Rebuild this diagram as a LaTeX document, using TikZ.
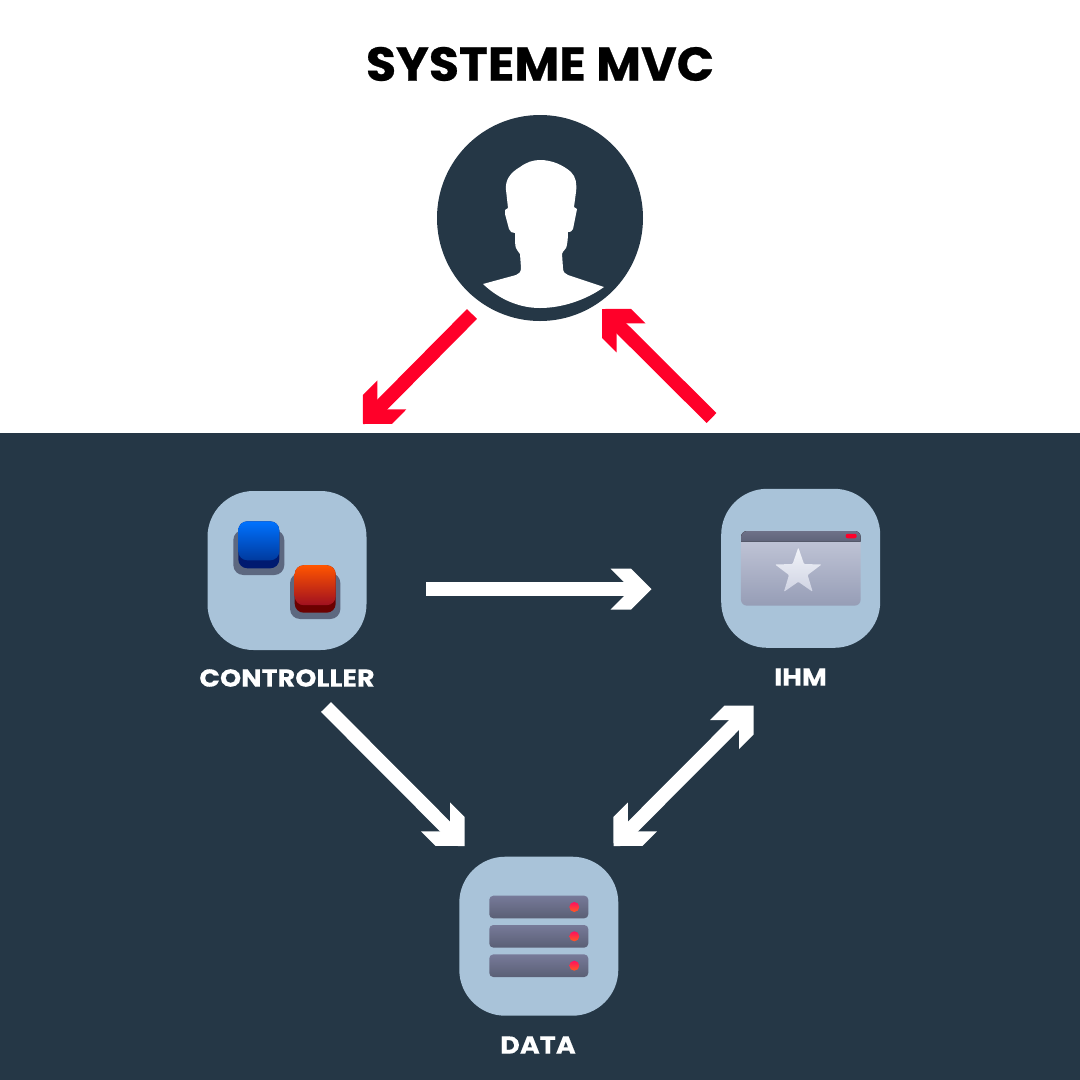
\documentclass[tikz,border=0pt]{standalone}
\usepackage{fontspec}
\setmainfont{Poppins}
\newfontfamily\titlefont{Poppins}[BoldFeatures={FakeStretch=1.03,FakeBold=0.5}]
\newfontfamily\labelfont{Poppins}[BoldFeatures={FakeStretch=1.105,FakeBold=0.25}]
\usetikzlibrary{shapes.geometric}
\definecolor{navy}{HTML}{253746}
\definecolor{iconbg}{HTML}{A9C3D9}
\definecolor{arrowred}{HTML}{FF0029}
\definecolor{shade}{HTML}{5D6880}
\definecolor{rackA}{HTML}{777A99}
\definecolor{rackB}{HTML}{5A5F75}
\definecolor{ledA}{HTML}{FF1060}
\definecolor{ledB}{HTML}{FF5A20}
\definecolor{blueA}{HTML}{0072FF}
\definecolor{blueB}{HTML}{003A9E}
\definecolor{blueedge}{HTML}{001A70}
\definecolor{redA}{HTML}{FF5500}
\definecolor{redB}{HTML}{A01020}
\definecolor{rededge}{HTML}{6B0000}
\definecolor{paneA}{HTML}{C5C9DA}
\definecolor{paneB}{HTML}{969DB6}
\definecolor{barA}{HTML}{6E7188}
\definecolor{barB}{HTML}{5E6379}
\definecolor{starA}{HTML}{F2F4F9}
\definecolor{starB}{HTML}{CFD3E3}
\pgfdeclarearrow{
  name=Chevron,
  setup code={
    \pgfarrowssettipend{0pt}
    \pgfarrowssetlineend{-19pt}
    \pgfarrowssetbackend{-41pt}
    \pgfarrowssetvisualbackend{-19pt}
    \pgfarrowshullpoint{0pt}{0pt}
    \pgfarrowshullpoint{-41pt}{20.5pt}
    \pgfarrowshullpoint{-41pt}{-20.5pt}
  },
  drawing code={
    \pgfpathmoveto{\pgfqpoint{0pt}{0pt}}
    \pgfpathlineto{\pgfqpoint{-20.5pt}{20.5pt}}
    \pgfpathlineto{\pgfqpoint{-41pt}{20.5pt}}
    \pgfpathlineto{\pgfqpoint{-20.5pt}{0pt}}
    \pgfpathlineto{\pgfqpoint{-41pt}{-20.5pt}}
    \pgfpathlineto{\pgfqpoint{-20.5pt}{-20.5pt}}
    \pgfpathclose
    \pgfusepathqfill
  }
}
\tikzset{
  flow/.style={line width=14pt,-Chevron},
  redflow/.style={flow,draw=arrowred,fill=arrowred},
  whiteflow/.style={flow,draw=white,fill=white},
  iconbox/.style={rectangle,fill=iconbg,minimum size=159pt,inner sep=0pt,rounded corners=46pt},
  iconlabel/.style={text=white,font=\labelfont\fontsize{24.5}{28}\selectfont\bfseries,inner sep=0pt},
  part/.style={rectangle,inner sep=0pt,outer sep=0pt},
  shadowpad/.style={part,fill=shade,rounded corners=10pt},
  rack/.style={part,minimum width=99pt,minimum height=22.6pt,rounded corners=4pt,top color=rackA,bottom color=rackB},
  led/.style={circle,inner sep=0pt,minimum size=10pt,top color=ledA,bottom color=ledB}
}
\begin{document}
\begin{tikzpicture}[x=1pt,y=-1pt]
  \useasboundingbox (0,0) rectangle (1080,1080);
  \fill[white] (0,0) rectangle (1080,433);
  \fill[navy] (0,433) rectangle (1080,1080);
  \node[font=\titlefont\fontsize{47.5}{52}\selectfont\bfseries,inner sep=0pt] (title) at (540,64) {SYSTEME MVC};

  % user
  \node[circle,fill=navy,minimum size=206pt,inner sep=0pt] (user) at (540,218) {};
  \fill[white] (506,190) .. controls (505,180) and (510,173) .. (520,167)
    .. controls (527,162) and (533,160) .. (540,160)
    .. controls (552,160) and (563,165) .. (571,172)
    .. controls (576,177) and (577,184) .. (576,192)
    -- (574,207) -- (577,209) -- (576,214) -- (573,229) .. controls (572,232) and (570,232) .. (568,232)
    .. controls (568,240) and (567,246) .. (566,248) .. controls (564,251) and (562,252) .. (562,254)
    -- (563,268) .. controls (563,272) and (565,274) .. (568,275)
    -- (604,287)
    .. controls (586,300) and (562,308) .. (540,308)
    .. controls (520,308) and (500,300) .. (483,284)
    -- (516,275) .. controls (519,274) and (521,272) .. (521,268)
    -- (520,254) .. controls (519,252) and (517,251) .. (516,248)
    .. controls (515,246) and (515,240) .. (515,233) .. controls (512,233) and (510,232) .. (509,229)
    -- (505,214) -- (505,210) -- (508,208) -- cycle;

  % controller
  \node[iconbox] (ctrl) at (287,570.5) {};
  \node[iconlabel] (ctrllabel) at (287,678) {CONTROLLER};
  \node[shadowpad,minimum width=51pt,minimum height=45pt] (blueshadow) at (258.8,552.5) {};
  \node[part,fill=blueedge,minimum width=41pt,minimum height=47pt,rounded corners=9pt] (bluebase) at (258.8,544.8) {};
  \node[part,top color=blueA,bottom color=blueB,minimum width=41pt,minimum height=39pt,rounded corners=9pt] (bluekey) at (258.8,540.8) {};
  \node[shadowpad,minimum width=50.3pt,minimum height=46pt] (redshadow) at (315.2,596) {};
  \node[part,fill=rededge,minimum width=41pt,minimum height=47.4pt,rounded corners=9pt] (redbase) at (315.2,589) {};
  \node[part,top color=redA,bottom color=redB,minimum width=41pt,minimum height=40pt,rounded corners=9pt] (redkey) at (315.2,585.2) {};

  % ihm
  \node[iconbox] (ihm) at (800.7,568.3) {};
  \node[iconlabel] (ihmlabel) at (800.5,677) {IHM};
  \node[part,minimum width=119.7pt,minimum height=74.7pt,rounded corners=6pt,top color=paneA,bottom color=paneB] (pane) at (800.8,568.3) {};
  \fill[top color=barA,bottom color=barB] (741,541.7) -- (741,537) arc[start angle=180,end angle=90,radius=6pt] -- (854.7,531) arc[start angle=90,end angle=0,radius=6pt] -- (860.7,541.7) -- cycle;
  \node[part,fill=arrowred,minimum width=11pt,minimum height=4.5pt,rounded corners=2pt] (pill) at (851.2,536) {};
  \node[star,star points=5,star point ratio=2.5,minimum size=49pt,inner sep=0pt,rounded corners=1pt,top color=starA,bottom color=starB] (favstar) at (798.3,572) {};

  % data
  \node[iconbox] (data) at (538.8,936.2) {};
  \node[iconlabel] (datalabel) at (538,1045) {DATA};
  \foreach \name/\ypos in {one/907,two/936.3,three/965.7}{
    \node[rack] (rack\name) at (538.8,\ypos) {};
    \node[led] (led\name) at (574.3,\ypos) {};
  }

  % connectors
  \coordinate (downfrom) at (472,314);
  \coordinate (downto) at (363,424);
  \coordinate (upfrom) at (711.5,418);
  \coordinate (upto) at (602,309);
  \coordinate (rightfrom) at (426,589);
  \coordinate (rightto) at (651.5,589);
  \coordinate (ctrlfrom) at (326,707);
  \coordinate (ctrlto) at (464.5,846);
  \coordinate (ihmend) at (753.5,705.5);
  \coordinate (dataend) at (613.5,846);
  \draw[redflow] (downfrom) -- (downto);
  \draw[redflow] (upfrom) -- (upto);
  \draw[whiteflow] (rightfrom) -- (rightto);
  \draw[whiteflow] (ctrlfrom) -- (ctrlto);
  \draw[whiteflow,Chevron-Chevron] (ihmend) -- (dataend);
\end{tikzpicture}
\end{document}
